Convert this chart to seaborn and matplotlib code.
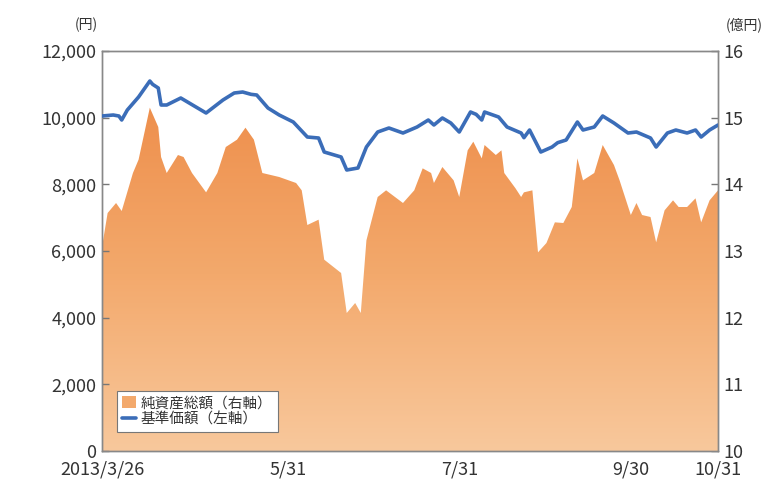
import numpy as np
import pandas as pd
import matplotlib
matplotlib.use("Agg")
import matplotlib.pyplot as plt
import seaborn as sns
from matplotlib.colors import LinearSegmentedColormap
from matplotlib.patches import Patch
from matplotlib.lines import Line2D

sns.set_theme(style="white")
plt.rcParams['font.family'] = ['Noto Sans CJK JP', 'DejaVu Sans']

start_date = "2013-03-26"
end_date = "2013-10-31"

# 基準価額 (left axis, 円): day offset from 2013/3/26, value
nav_days = [0, 4, 6, 7, 8, 9, 13, 17, 18, 20, 21, 23, 28, 31, 37, 43, 47, 50, 53, 55,
            59, 63, 68, 73, 77, 79, 85, 87, 91, 94, 98, 102, 107, 112, 116, 118, 121,
            124, 127, 131, 133, 135, 136, 141, 144, 149, 150, 152, 156, 160, 162, 165,
            169, 171, 175, 178, 182, 187, 190, 195, 197, 201, 204, 208, 211, 213, 216, 219]
nav_vals = [10050, 10080, 10050, 9930, 10080, 10230, 10620, 11100, 11000, 10890, 10380,
            10380, 10590, 10440, 10140, 10530, 10740, 10770, 10700, 10680, 10290, 10080,
            9870, 9420, 9390, 8970, 8820, 8430, 8490, 9120, 9570, 9690, 9540, 9720, 9930,
            9780, 9990, 9840, 9570, 10170, 10100, 9930, 10170, 10020, 9720, 9540, 9400,
            9630, 8970, 9120, 9250, 9330, 9870, 9630, 9720, 10050, 9840, 9540, 9570, 9390,
            9120, 9540, 9630, 9540, 9630, 9420, 9630, 9780]

# 純資産総額 (right axis, 億円)
aum_days = [0, 2, 5, 7, 11, 13, 17, 20, 21, 23, 27, 29, 32, 37, 41, 44, 48, 51, 54, 57,
            63, 69, 71, 73, 77, 79, 85, 87, 90, 92, 94, 98, 101, 107, 111, 114, 117, 118,
            121, 125, 127, 130, 132, 135, 136, 140, 142, 143, 147, 149, 150, 153, 155, 158,
            161, 164, 167, 169, 171, 175, 178, 182, 184, 188, 190, 192, 195, 197, 200, 203,
            205, 208, 211, 213, 216, 219]
aum_vals = [13.06, 13.57, 13.72, 13.60, 14.17, 14.37, 15.15, 14.86, 14.41, 14.17, 14.44,
            14.41, 14.17, 13.88, 14.17, 14.56, 14.67, 14.85, 14.67, 14.17, 14.11, 14.02,
            13.91, 13.39, 13.47, 12.87, 12.67, 12.07, 12.22, 12.07, 13.16, 13.81, 13.91,
            13.72, 13.91, 14.24, 14.17, 14.02, 14.26, 14.06, 13.81, 14.51, 14.64, 14.39,
            14.59, 14.44, 14.51, 14.17, 13.94, 13.81, 13.88, 13.91, 12.98, 13.12, 13.43,
            13.42, 13.66, 14.39, 14.06, 14.17, 14.59, 14.29, 14.06, 13.54, 13.72, 13.54,
            13.51, 13.13, 13.61, 13.76, 13.66, 13.66, 13.79, 13.43, 13.76, 13.91]

tick_dates = ["2013-03-26", "2013-05-31", "2013-07-31", "2013-09-30", "2013-10-31"]
tick_labels = ["2013/3/26", "5/31", "7/31", "9/30", "10/31"]
left_ticks = [0, 2000, 4000, 6000, 8000, 10000, 12000]
right_ticks = [10, 11, 12, 13, 14, 15, 16]

base = pd.Timestamp(start_date)
nav_df = pd.DataFrame({"date": base + pd.to_timedelta(nav_days, unit="D"), "nav": nav_vals})
aum_df = pd.DataFrame({"date": base + pd.to_timedelta(aum_days, unit="D"), "aum": aum_vals})

fig = plt.figure(figsize=(7.71, 4.90), dpi=100)
fig.patch.set_facecolor("white")
ax = fig.add_axes([0.1323, 0.0796, 0.799, 0.8163])
ax2 = ax.twinx()

bg = "#FFFAE6"
ax2.set_facecolor(bg)
ax.set_zorder(ax2.get_zorder() + 1)
ax.patch.set_visible(False)

# area on right axis with vertical gradient
poly = ax2.fill_between(aum_df["date"], 10, aum_df["aum"], color="none", lw=0)
x0 = matplotlib.dates.date2num(pd.Timestamp(start_date))
x1 = matplotlib.dates.date2num(pd.Timestamp(end_date))
cmap = LinearSegmentedColormap.from_list("g", ["#F8C89C", "#F3A96C", "#EE8E4B"])
grad = np.linspace(0, 1, 256).reshape(-1, 1)
im = ax2.imshow(grad, extent=[x0, x1, 10, 15.3], origin="lower", aspect="auto",
                cmap=cmap, zorder=1)
im.set_clip_path(poly.get_paths()[0], transform=ax2.transData)
ax2.set_ylim(10, 16)

sns.lineplot(data=nav_df, x="date", y="nav", ax=ax, color="#3B6DB8", lw=2.6, zorder=3)
ax.set_ylim(0, 12000)
ax.set_xlim(pd.Timestamp(start_date), pd.Timestamp(end_date))
ax2.set_xlim(pd.Timestamp(start_date), pd.Timestamp(end_date))

ax.set_xlabel("")
ax.set_ylabel("")
ax.set_yticks(left_ticks)
ax.set_yticklabels([f"{v:,}" for v in left_ticks])
ax2.set_yticks(right_ticks)
ax2.set_yticklabels([str(v) for v in right_ticks])
ax.set_xticks(pd.to_datetime(tick_dates))
ax.set_xticklabels(tick_labels)

tc = "#333333"
ax.tick_params(axis="y", direction="in", length=5, width=1, colors="#777777",
               labelcolor=tc, labelsize=13, pad=4)
ax.tick_params(axis="x", direction="in", length=6, width=1, colors="#777777",
               labelcolor=tc, labelsize=13, pad=7)
ax2.tick_params(axis="y", direction="in", length=5, width=1, colors="#777777",
                labelcolor=tc, labelsize=13, pad=4)
for a in (ax, ax2):
    for s in a.spines.values():
        s.set_color("#888888")
        s.set_linewidth(1)

fig.text(0.112, 0.935, "(円)", ha="center", va="bottom", fontsize=10, color=tc)
fig.text(0.965, 0.935, "(億円)", ha="center", va="bottom", fontsize=10, color=tc)

handles = [Patch(facecolor="#F3A96C", edgecolor="none"),
           Line2D([0], [0], color="#3B6DB8", lw=2.6)]
leg = ax.legend(handles, ["純資産総額（右軸）", "基準価額（左軸）"], loc="lower left",
                bbox_to_anchor=(0.024, 0.048), fontsize=10.5, frameon=True, fancybox=False,
                handlelength=1.0, handleheight=0.9, handletextpad=0.3, borderpad=0.35,
                labelspacing=0.15, borderaxespad=0, framealpha=1, facecolor="white")
leg.get_frame().set_edgecolor("#777777")
leg.get_frame().set_linewidth(0.8)
for t in leg.get_texts():
    t.set_color(tc)

fig.savefig("out.png", dpi=100)
